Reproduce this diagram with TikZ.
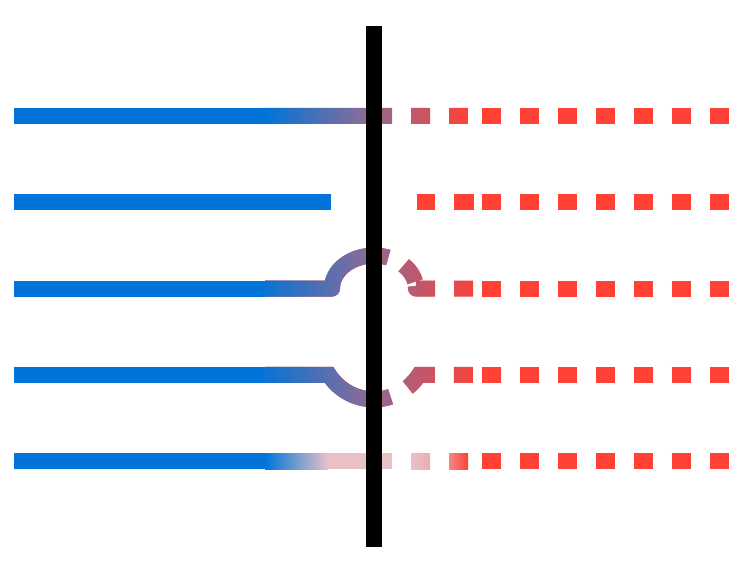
\documentclass[tikz,border=0pt]{standalone}
\usetikzlibrary{fadings}
\definecolor{cblue}{HTML}{0074D9}
\definecolor{cred}{HTML}{FF4136}
\definecolor{cmid}{RGB}{140,108,152}
\definecolor{cpale}{RGB}{232,193,198}
\tikzfading[name=fade left half, left color=transparent!0, right color=transparent!100, middle color=transparent!100]
\tikzfading[name=fade right half, left color=transparent!0, right color=transparent!100, middle color=transparent!0]
\tikzset{
    stroke/.style={line width=16pt},
    solidline/.style={stroke, draw=cblue},
    dashline/.style={stroke, draw=cred, dash pattern=on 19pt off 19pt},
    crossbar/.style={line width=16pt, draw=black},
    blend/.style={left color=cblue, right color=cred, middle color=cmid}
}
% red stroke, with mid and blue overlays fading out to the east
\newcommand{\fadestroke}[2]{%
    \draw[stroke, cred, #1] #2;
    \draw[stroke, cmid, path fading=fade right half, #1] #2;
    \draw[stroke, cblue, path fading=fade left half, #1] #2;
}
\begin{document}
\begin{tikzpicture}[x=1pt, y=-1pt]
\useasboundingbox (0,0) rectangle (744,577);

% Solid blue starts
\foreach \y in {116,288.6,374.9,461.2}
    \draw[solidline] (14,\y) -- (265.5,\y);
\draw[solidline] (14,202.3) -- (330.7,202.3);

% Regular red dashes
\foreach \y in {116,202.3,288.6,374.9,461.2}
    \draw[dashline] (481.5,\y) -- (728.5,\y);

% Row 1: straight through
\begin{scope}
\clip (265,108) rectangle (392,124) (411,108) rectangle (430,124) (449,108) rectangle (468,124);
\shade[blend] (265,108) rectangle (468,124);
\end{scope}

% Row 2: gap
\draw[stroke, cred, dash pattern=on 18.6pt off 19pt on 19.4pt off 50pt] (416.7,202.3) -- (473.7,202.3);

% Row 3: arc over, round joins
\fadestroke{line join=round, dash pattern=on 140.6pt off 17.3pt on 20.4pt off 4.4pt on 21.5pt off 19pt on 19pt off 50pt}
    {(265,288.6) -- (332,288.6) arc[start angle=-180, end angle=0, x radius=42, y radius=33] -- (473,288.6)}

% Row 4: arc under, miter joins
\fadestroke{line join=miter, dash pattern=on 134.3pt off 19.6pt on 32.9pt off 19pt on 19pt off 50pt}
    {(265,374.9) -- (329,374.9) arc[start angle=147.1, end angle=32.9, radius=53.6] -- (473,374.9)}

% Row 5: fading out
\shade[left color=cblue, right color=cpale] (265,453.2) rectangle (328,469.2);
\fill[cpale] (327.5,453.2) rectangle (392,469.2);
\shade[left color=cpale, right color=cpale!85!cred] (411,453.2) rectangle (430,469.2);
\shade[left color=cpale!55!cred, right color=cred] (449,453.2) rectangle (468,469.2);

% Crossing bar
\draw[crossbar] (374,26) -- (374,547);

\end{tikzpicture}
\end{document}
